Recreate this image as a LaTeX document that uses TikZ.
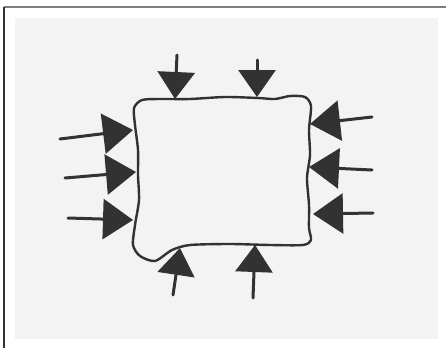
\documentclass[tikz,border=0pt]{standalone}
\usepackage{xcolor}
\usepackage{tikz}
\usetikzlibrary{arrows.meta,positioning}
\definecolor{pencil}{RGB}{50,50,50}
\definecolor{paper}{RGB}{243,243,243}
\definecolor{framegray}{RGB}{125,125,125}

\begin{document}
\begin{tikzpicture}[
    x=1pt, y=-1pt,
    outline/.style={draw=pencil, line width=2.4pt, line join=round},
    push/.style={-{Triangle[length=27pt, width=37pt]}, line width=3pt, draw=pencil, line cap=round},
    sidepush/.style={push, -{Triangle[length=30pt, width=40pt]}},
    framestroke/.style={line width=1.5pt}
]
\useasboundingbox (0,0) rectangle (446,348);

% Sheet & frame
\fill[paper] (15,18) rectangle (438,339);
\draw[framestroke, framegray] (4,7) -- (446,7);
\draw[framestroke, black!80] (4,7) -- (4,348);

% Hand-drawn box
\draw[outline] plot[smooth cycle, tension=0.45] coordinates {
    (134,108) (142,100) (160,99) (190,99) (225,97) (258,98) (275,99) (290,96)
    (305,97) (311,106) (309,130) (310,155) (307,178) (309,205) (309,228)
    (311,240) (303,245) (270,245) (230,244) (190,245) (172,250) (155,261)
    (140,256) (133,245) (135,225) (139,200) (138,175) (138,150) (135,125)};

% Tips on the box
\coordinate (t1) at (175,99);
\coordinate (t2) at (257,97);
\coordinate (l1) at (133,130);
\coordinate (l2) at (136,172);
\coordinate (l3) at (133,220);
\coordinate (r1) at (310,124);
\coordinate (r2) at (309,167);
\coordinate (r3) at (313,214);
\coordinate (b1) at (180,248);
\coordinate (b2) at (255,245);

% Free ends
\coordinate (t1s) at (177,55);
\coordinate (t2s) at (257,60);
\coordinate (l1s) at (60,139);
\coordinate (l2s) at (65,178);
\coordinate (l3s) at (68,218);
\coordinate (r1s) at (372,117);
\coordinate (r2s) at (372,170);
\coordinate (r3s) at (373,213);
\coordinate (b1s) at (173,295);
\coordinate (b2s) at (253,298);

% Inward arrows
\foreach \a in {t1,t2,b1,b2}
    \draw[push] (\a s) -- (\a);
\foreach \a in {l1,l2,l3,r1,r2,r3}
    \draw[sidepush] (\a s) -- (\a);

\end{tikzpicture}
\end{document}
